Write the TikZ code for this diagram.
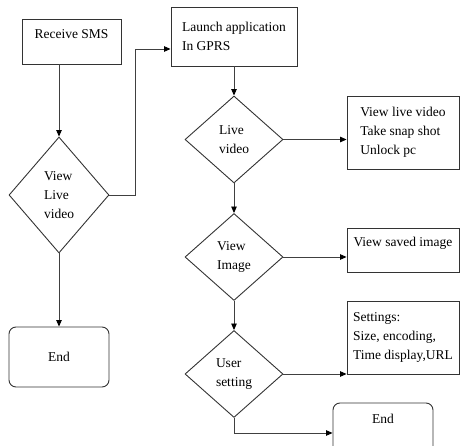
\documentclass[tikz,border=0pt]{standalone}
\usepackage{fontspec}
\setmainfont{Liberation Serif}
\usepackage{tikz}
\usetikzlibrary{calc, shapes, shapes.geometric, arrows.meta, positioning}
\tikzset{
    boxnode/.style = {draw=black!80, line width=0.9pt, rectangle, fill=none, inner sep=0pt, align=left,
      node distance=0em, font=\fontsize{13.5}{19}\selectfont},
    endnode/.style = {boxnode, rounded corners=7pt, minimum width=100pt, minimum height=60pt},
    decisionnode/.style = {draw=black!80, line width=0.9pt, diamond, inner sep=0pt, align=left,
      node distance=0em, minimum width=98pt, minimum height=87pt, font=\fontsize{13.5}{19}\selectfont},
    sidenode/.style = {boxnode, minimum width=112pt},
    connect/.style = {black!75, line width=0.9pt, -{Triangle[length=6.5pt, width=5.5pt, black]}}
}

\begin{document}
\begin{tikzpicture}
    \clip (0,0) rectangle (467pt,-446pt);

    % left column
    \node [boxnode, name=sms, minimum width=99pt, minimum height=45pt, text height=9pt, text depth=14pt]
        at (71.5pt,-41.5pt) {Receive SMS};
    \node [decisionnode, name=view1, below of=sms, xshift=-12.5pt, yshift=-153.5pt,
        minimum width=100pt, minimum height=116pt] {View\\Live\\video};
    \node [endnode, name=end1, below of=view1, yshift=-162pt] {End};

    % right column
    \node [boxnode, name=launch, right of=sms, xshift=162.5pt, yshift=5pt,
        minimum width=126pt, minimum height=59pt] {Launch application\\ In GPRS};
    \node [decisionnode, name=live, below of=launch, yshift=-103pt] {Live\\video};
    \node [decisionnode, name=image, below of=live, yshift=-117.5pt] {View\\Image};
    \node [decisionnode, name=user, below of=image, yshift=-117pt] {User\\setting};

    \node [sidenode, name=opts, right of=live, xshift=169pt, yshift=7pt, minimum height=73pt]
        {View live video\\Take snap shot\\Unlock pc};
    \node [sidenode, name=saved, right of=image, xshift=169pt, yshift=7pt, minimum height=44pt,
        text height=9pt, text depth=15pt] {View saved image};
    \node [sidenode, name=settings, right of=user, xshift=169pt, yshift=36.5pt, minimum height=73pt]
        {Settings:\\Size, encoding,\\Time display,URL};
    \node [endnode, name=end2, below of=user, xshift=149pt, yshift=-59pt,
        text height=9pt, text depth=27pt] {End};

    \draw[connect] (sms.south -| view1.north) -- (view1.north);
    \draw[connect] (view1.south) -- (end1.north);
    \draw[connect] (view1.east) -- ++(26pt,0) |- ([yshift=-12.5pt]launch.west);

    \draw[connect] (launch.south) -- (live.north);
    \draw[connect] (live.east) -- (live.east -| opts.west);
    \draw[connect] (live.south) -- (image.north);
    \draw[connect] (image.east) -- (image.east -| saved.west);
    \draw[connect] (image.south) -- (user.north);
    \draw[connect] (user.east) -- (user.east -| settings.west);
    \draw[connect] (user.south) |- (end2.west);
\end{tikzpicture}
\end{document}
